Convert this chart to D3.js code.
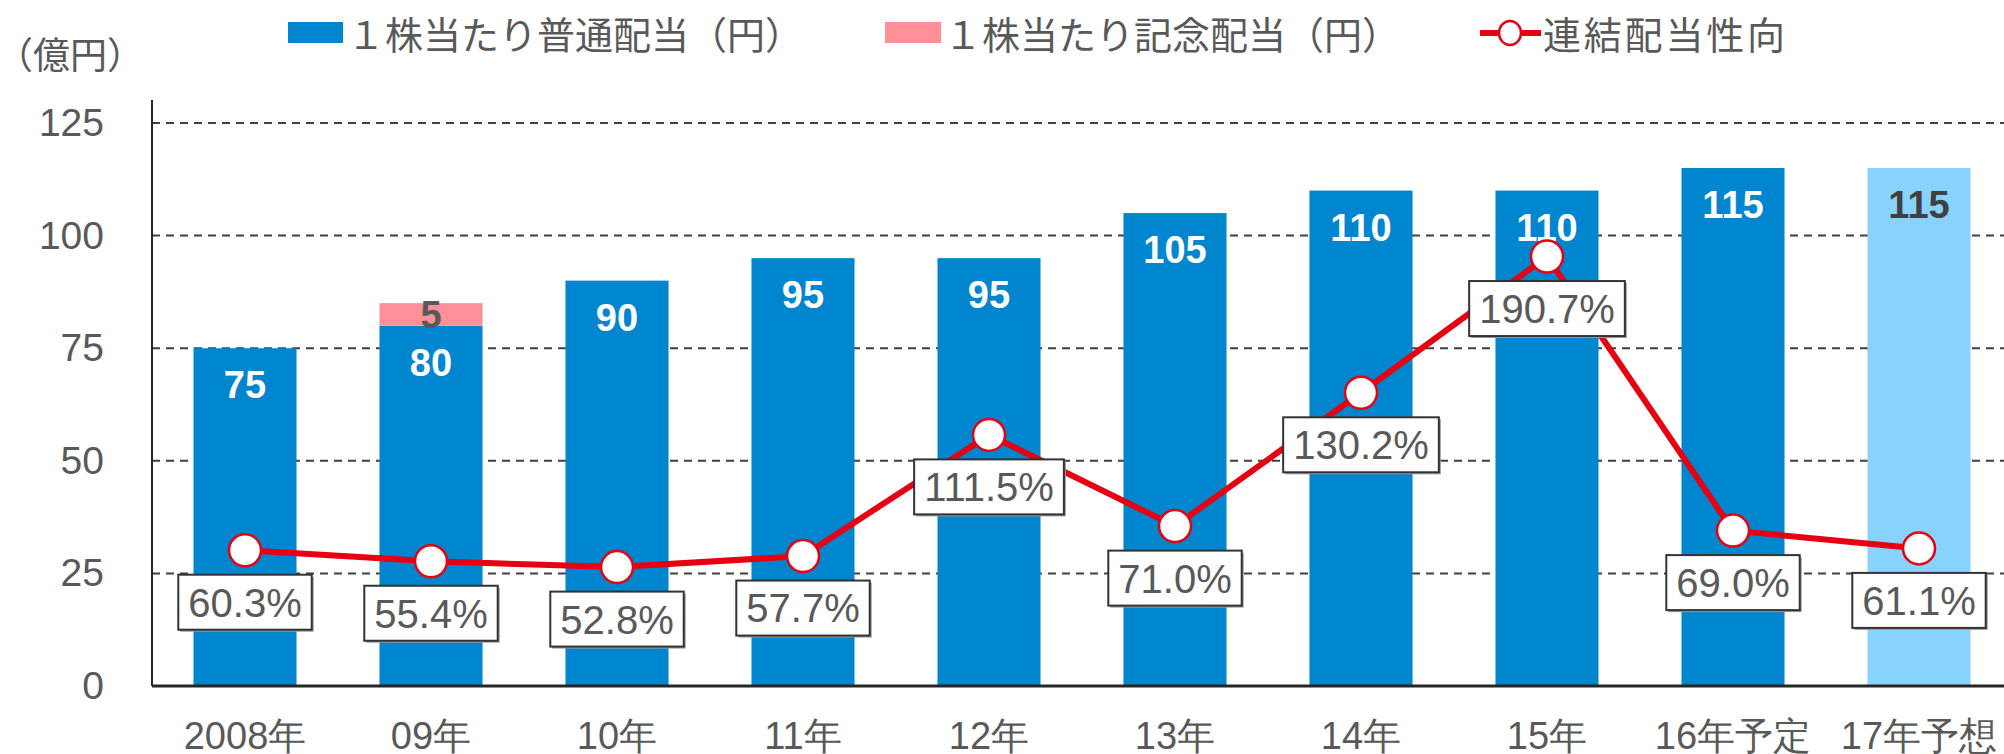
<!DOCTYPE html>
<html>
<head>
<meta charset="utf-8">
<script src="https://cdn.jsdelivr.net/npm/d3@7"></script>
<style>
    body { margin: 0; background: #fff; }
    svg { display: block; font-family: "Liberation Sans", Arial, "Noto Sans CJK JP", sans-serif; }
</style>
</head>
<body>
<div id="chart"></div>
<script>
const years = ["2008年", "09年", "10年", "11年", "12年", "13年", "14年", "15年", "16年予定", "17年予想"];
const regular = [75, 80, 90, 95, 95, 105, 110, 110, 115, 115];
const commemorative = [0, 5, 0, 0, 0, 0, 0, 0, 0, 0];
const payoutRatio = [60.3, 55.4, 52.8, 57.7, 111.5, 71.0, 130.2, 190.7, 69.0, 61.1];
const yTicks = [0, 25, 50, 75, 100, 125];
const legendNames = ["１株当たり普通配当（円）", "１株当たり記念配当（円）", "連結配当性向"];

const width = 2004;
const height = 754;
const margin = { top: 123, bottom: 68, left: 152, right: -8 };

const blue = "#0086cf", pink = "#ff8f99", lightBlue = "#87d3fd", red = "#e60012", grey = "#595959";

const svg = d3.select("#chart")
    .append("svg")
    .attr("width", width)
    .attr("height", height);

const x = d3.scaleBand()
    .domain(years)
    .range([margin.left, width - margin.right])
    .paddingInner(0.446)
    .paddingOuter(0.223);

const y = d3.scaleLinear()
    .domain([0, 125])
    .range([height - margin.bottom, margin.top]);

// ratio is on a hidden 0-250% axis
const y2 = d3.scaleLinear()
    .domain([0, 250])
    .range([height - margin.bottom, margin.top]);

// dashed grid
svg.append("g")
    .selectAll("line")
    .data(yTicks.filter(d => d > 0))
    .join("line")
    .attr("x1", margin.left)
    .attr("x2", width)
    .attr("y1", d => y(d))
    .attr("y2", d => y(d))
    .attr("stroke", "#404040")
    .attr("stroke-width", 2)
    .attr("stroke-dasharray", "8,6");

// y axis labels
svg.append("g")
    .attr("transform", `translate(${margin.left},0)`)
    .call(d3.axisLeft(y).tickValues(yTicks).tickSize(0).tickPadding(48))
    .call(g => g.select(".domain").remove())
    .selectAll("text")
    .attr("font-size", 39)
    .attr("fill", grey)
    .attr("font-family", null);

// bars
const i = d3.range(years.length);
svg.append("g")
    .selectAll("rect")
    .data(i)
    .join("rect")
    .attr("x", d => x(years[d]))
    .attr("y", d => y(regular[d]))
    .attr("width", x.bandwidth())
    .attr("height", d => y(0) - y(regular[d]))
    .attr("fill", d => d == years.length - 1 ? lightBlue : blue);

svg.append("g")
    .selectAll("rect")
    .data(i.filter(d => commemorative[d] > 0))
    .join("rect")
    .attr("x", d => x(years[d]))
    .attr("y", d => y(regular[d] + commemorative[d]))
    .attr("width", x.bandwidth())
    .attr("height", d => y(regular[d]) - y(regular[d] + commemorative[d]))
    .attr("fill", pink);

// bar value labels
svg.append("g")
    .selectAll("text")
    .data(i)
    .join("text")
    .attr("x", d => x(years[d]) + x.bandwidth() / 2)
    .attr("y", d => y(regular[d]) + 50)
    .attr("text-anchor", "middle")
    .attr("font-size", 38)
    .attr("font-weight", "bold")
    .attr("fill", d => d == years.length - 1 ? "#404040" : "#fff")
    .text(d => regular[d]);

svg.append("g")
    .selectAll("text")
    .data(i.filter(d => commemorative[d] > 0))
    .join("text")
    .attr("x", d => x(years[d]) + x.bandwidth() / 2)
    .attr("y", d => (y(regular[d]) + y(regular[d] + commemorative[d])) / 2 + 14)
    .attr("text-anchor", "middle")
    .attr("font-size", 38)
    .attr("font-weight", "bold")
    .attr("fill", grey)
    .text(d => commemorative[d]);

// axis lines
svg.append("line")
    .attr("x1", margin.left).attr("x2", margin.left)
    .attr("y1", 100).attr("y2", y(0))
    .attr("stroke", "#262626").attr("stroke-width", 2);

svg.append("line")
    .attr("x1", margin.left).attr("x2", width)
    .attr("y1", y(0)).attr("y2", y(0))
    .attr("stroke", "#262626").attr("stroke-width", 3);

// x labels
svg.append("g")
    .attr("transform", `translate(0,${y(0)})`)
    .call(d3.axisBottom(x).tickSize(0).tickPadding(36))
    .call(g => g.select(".domain").remove())
    .selectAll("text")
    .attr("font-size", 38)
    .attr("fill", grey)
    .attr("font-family", null);

// payout ratio line
const cx = d => x(years[d]) + x.bandwidth() / 2;
svg.append("path")
    .datum(i)
    .attr("fill", "none")
    .attr("stroke", red)
    .attr("stroke-width", 6)
    .attr("stroke-linejoin", "round")
    .attr("d", d3.line().x(cx).y(d => y2(payoutRatio[d])));

svg.append("g")
    .selectAll("circle")
    .data(i)
    .join("circle")
    .attr("cx", cx)
    .attr("cy", d => y2(payoutRatio[d]))
    .attr("r", 16)
    .attr("fill", "#fff")
    .attr("stroke", red)
    .attr("stroke-width", 2.5);

// ratio label boxes
const boxes = svg.append("g")
    .selectAll("g")
    .data(i)
    .join("g")
    .attr("transform", d => `translate(${cx(d)},${y2(payoutRatio[d]) + 52})`);

boxes.append("rect").attr("class", "shadow");
boxes.append("rect").attr("class", "box");
boxes.append("text")
    .attr("text-anchor", "middle")
    .attr("dy", "0.36em")
    .attr("font-size", 40)
    .attr("fill", grey)
    .text(d => payoutRatio[d].toFixed(1) + "%");

boxes.each(function () {
    const g = d3.select(this);
    const w = g.select("text").node().getComputedTextLength() + 20;
    g.select(".shadow")
        .attr("x", -w / 2 + 2).attr("y", -27.5 + 2)
        .attr("width", w).attr("height", 55)
        .attr("fill", "#9a9a9a");
    g.select(".box")
        .attr("x", -w / 2).attr("y", -27.5)
        .attr("width", w).attr("height", 55)
        .attr("fill", "#fff")
        .attr("stroke", "#333")
        .attr("stroke-width", 2);
});

// unit
svg.append("text")
    .attr("x", -4)
    .attr("y", 69)
    .attr("font-size", 37)
    .attr("fill", grey)
    .text("（億円）");

// legend
const legend = svg.append("g").attr("font-size", 38).attr("fill", grey);
legend.append("rect").attr("x", 288).attr("y", 22).attr("width", 55).attr("height", 21).attr("fill", blue);
legend.append("text").attr("x", 347).attr("y", 49).text(legendNames[0]);
legend.append("rect").attr("x", 885).attr("y", 22).attr("width", 56).attr("height", 21).attr("fill", pink);
legend.append("text").attr("x", 944).attr("y", 49).text(legendNames[1]);
legend.append("line").attr("x1", 1480).attr("x2", 1541).attr("y1", 33).attr("y2", 33)
    .attr("stroke", red).attr("stroke-width", 6);
legend.append("ellipse").attr("cx", 1510).attr("cy", 33).attr("rx", 11).attr("ry", 12)
    .attr("fill", "#fff").attr("stroke", red).attr("stroke-width", 2.5);
legend.append("text").attr("x", 1543).attr("y", 49).attr("textLength", 242).text(legendNames[2]);
</script>
</body>
</html>
